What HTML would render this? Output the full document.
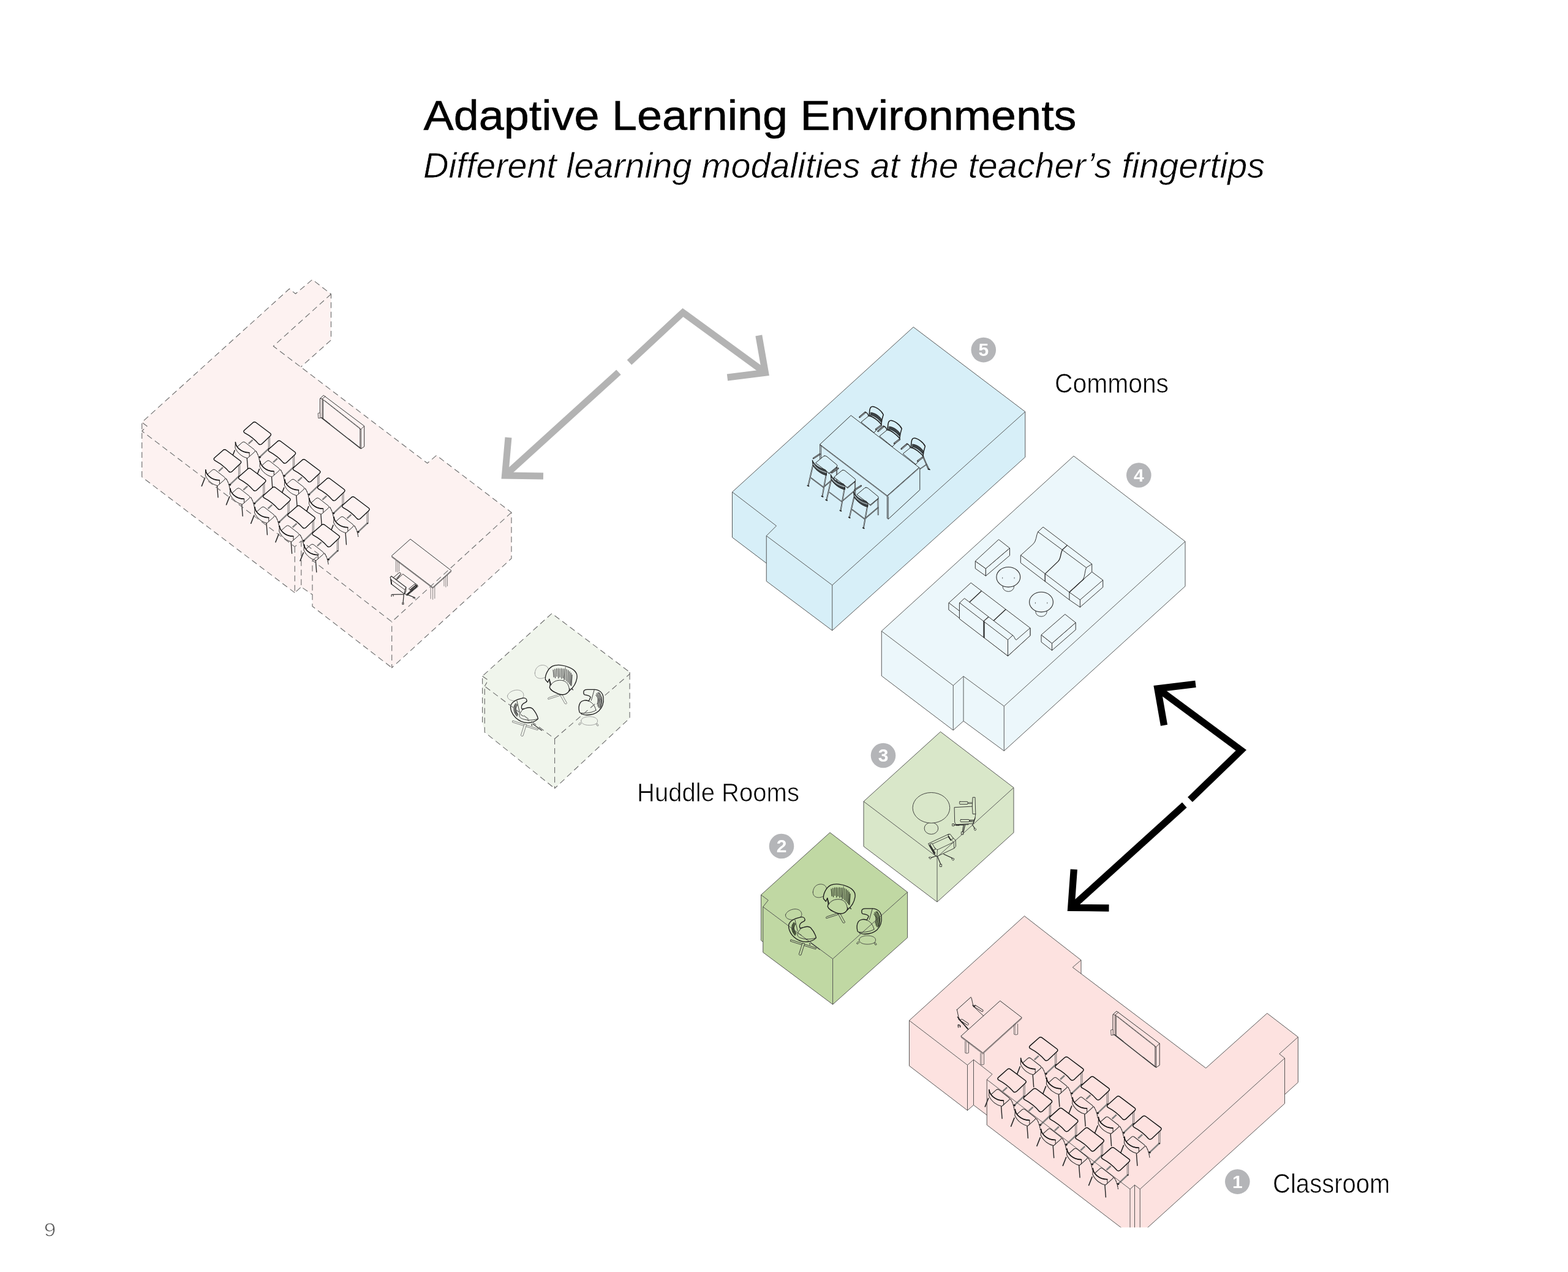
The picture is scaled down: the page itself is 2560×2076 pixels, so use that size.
<!DOCTYPE html>
<html lang="en">
<head>
<meta charset="utf-8">
<title>Adaptive Learning Environments</title>
<style>
html,body{margin:0;padding:0;background:#fff;}
body{width:2560px;height:2076px;overflow:hidden;font-family:"Liberation Sans",sans-serif;}
svg{display:block;font-family:"Liberation Sans",sans-serif;}
</style>
</head>
<body>
<svg xmlns="http://www.w3.org/2000/svg" width="2560" height="2076" viewBox="0 0 2560 2076">
<defs>
<clipPath id="clipc1"><rect x="0" y="0" width="2560" height="2003.3"/></clipPath>
</defs>
<rect width="2560" height="2076" fill="#fff"/>
<rect x="2558" y="2074" width="1" height="1" fill="#fff" style="mix-blend-mode:multiply"/>
<polygon points="231.70,689.20 472.50,471.30 482.50,479.50 510,456.30 540.50,480 540.50,555 491.30,598.80 697.70,756 712.60,743.30 835,836.40 835,911.40 639.70,1089.80 510,989.50 510,970.50 491.80,957.90 481.30,967.40 231.70,778.50" fill="#fdf2f1"/>
<polygon points="787.60,1103.50 901,1001.20 1028.10,1097 1028.10,1172 905.60,1286.70 791.30,1195 787.60,1179" fill="#f0f5ec"/>
<polygon points="1195.50,803 1267.50,858.25 1267.50,932.25 1195.50,877" fill="#d7eff8" />
<polygon points="1251.25,874.50 1358.75,955 1358.75,1029 1251.25,948.50" fill="#d7eff8" />
<polygon points="1358.75,955 1673.75,672 1673.75,746 1358.75,1029" fill="#d7eff8" />
<polygon points="1195.50,803 1491.25,533.75 1673.75,672 1358.75,955 1251.25,874.50 1267.50,858.25" fill="#d7eff8" />
<polygon points="1439.25,1030 1556.25,1118.75 1556.25,1191.75 1439.25,1103" fill="#ecf7fb" />
<polygon points="1556.25,1118.75 1573,1103.75 1573,1176.75 1556.25,1191.75" fill="#ecf7fb" />
<polygon points="1573,1103.75 1639.25,1152.50 1639.25,1225.50 1573,1176.75" fill="#ecf7fb" />
<polygon points="1639.25,1152.50 1935,883.75 1935,956.75 1639.25,1225.50" fill="#ecf7fb" />
<polygon points="1439.25,1030 1753,744.25 1935,883.75 1639.25,1152.50 1573,1103.75 1556.25,1118.75" fill="#ecf7fb" />
<polygon points="1410,1308 1530,1398.75 1530,1472.05 1410,1381.30" fill="#d9e7c9" />
<polygon points="1530,1398.75 1655,1285.50 1655,1358.80 1530,1472.05" fill="#d9e7c9" />
<polygon points="1410,1308 1535.50,1194.25 1655,1285.50 1530,1398.75" fill="#d9e7c9" />
<polygon points="1242.50,1460.50 1254.25,1469.25 1254.25,1543.55 1242.50,1534.80" fill="#c0d8a3" />
<polygon points="1245.75,1480 1359.60,1565 1359.60,1639.30 1245.75,1554.30" fill="#c0d8a3" />
<polygon points="1359.60,1565 1481.60,1456 1481.60,1530.30 1359.60,1639.30" fill="#c0d8a3" />
<polygon points="1242.50,1460.50 1355,1358.75 1481.60,1456 1359.60,1565 1245.75,1480 1254.25,1469.25" fill="#c0d8a3" />
<g clip-path="url(#clipc1)">
<polygon points="1765,1567 1751.25,1578.75 1765,1589.20" fill="#fde2e0" />
<polygon points="2119.25,1692.50 2088.75,1720 2088.75,1794 2119.25,1766.50" fill="#fde2e0" />
<polygon points="2097.50,1727 1861.25,1940.75 1861.25,2014.75 2097.50,1801" fill="#fde2e0" />
<polygon points="1861.25,1940.75 1852.50,1934 1852.50,2008 1861.25,2014.75" fill="#fde2e0" />
<polygon points="1852.50,1934 1845,1940.75 1845,2014.75 1852.50,2008" fill="#fde2e0" />
<polygon points="1589.50,1729.50 1620,1753.25 1620,1827.25 1589.50,1803.50" fill="#fde2e0" />
<polygon points="1579.50,1738.25 1589.50,1729.50 1589.50,1803.50 1579.50,1812.25" fill="#fde2e0" />
<polygon points="1484.50,1665.50 1579.50,1738.25 1579.50,1812.25 1484.50,1739.50" fill="#fde2e0" />
<polygon points="1611.25,1762 1845,1940.75 1845,2014.75 1611.25,1836" fill="#fde2e0" />
<polygon points="1484.50,1665.50 1672.50,1495 1765,1567 1751.25,1578.75 1968.75,1743.25 2068.75,1653.75 2119.25,1692.50 2088.75,1720 2097.50,1727 1861.25,1940.75 1852.50,1934 1845,1940.75 1611.25,1762 1620,1753.25 1589.50,1729.50 1579.50,1738.25" fill="#fde2e0" />
</g>
<defs>
<g id="deskL" fill="none" stroke="#2a2a2a" stroke-width="1.1" stroke-linecap="round" stroke-linejoin="round">
<path d="M8.6,57.8L23.6,43.6" stroke="#808080" stroke-width="2.4" stroke-linecap="butt"/>
<path d="M22.9,25.5V43.4M25,24.5V42.8" stroke="#666" stroke-width="0.9"/>
<circle cx="24" cy="43.8" r="1.2" fill="#333" stroke="none"/>
<path d="M-2.8,29.6L-9.6,35.9" stroke="#808080" stroke-width="2.5" stroke-linecap="butt"/>
<path d="M-20,33.8Q-17.7,31.8 -15.3,33.7L-0.1,45.6Q2.3,47.5 0,49.5L-8.9,57.4Q-11.2,59.4 -13.6,57.5L-28.8,45.6Q-31.2,43.7 -28.9,41.7Z" fill="#fdf2f1" stroke-width="1"/>
<path d="M2.3,47.8C5.5,52 7.5,58 8.6,65.5" stroke-width="1.1" stroke-dasharray="3.2 1.2"/>
<circle cx="8.7" cy="57.9" r="1.6" fill="#222" stroke="none"/>
<path d="M-32.2,46.8L-37.4,59.9" stroke-width="1.6"/>
<path d="M-12.1,59.9L-10.7,78.5" stroke-width="1.4"/>
<path d="M-31,33.7C-30.6,40.5 -22.5,50.3 -8.4,50.5L-8.2,56.6L-11.2,59.4C-18,58.3 -27,52.5 -31.3,43.1Z" fill="#fdf2f1" stroke-width="1"/>
<path d="M-31,33.4C-30.6,40.5 -22.5,50.3 -8.4,50.5" stroke="#141414" stroke-width="1.6"/>
<path d="M-2.6,1.6Q0,-0.6 2.7,1.5L25.6,18.7Q28.3,20.8 25.8,23.1L12.1,36.1Q9.6,38.4 6.9,36.3C0.2,28.5 -6.6,23.2 -16.2,18.1Q-18.9,16 -16.3,13.8Z" fill="#fdf2f1" stroke="#111" stroke-width="1.4"/>
</g>
<g id="deskR" fill="none" stroke="#2a2a2a" stroke-width="1.1" stroke-linecap="round" stroke-linejoin="round">
<path d="M8.6,57.8L23.6,43.6" stroke="#808080" stroke-width="2.4" stroke-linecap="butt"/>
<path d="M22.9,25.5V43.4M25,24.5V42.8" stroke="#666" stroke-width="0.9"/>
<circle cx="24" cy="43.8" r="1.2" fill="#333" stroke="none"/>
<path d="M-2.8,29.6L-9.6,35.9" stroke="#808080" stroke-width="2.5" stroke-linecap="butt"/>
<path d="M-20,33.8Q-17.7,31.8 -15.3,33.7L-0.1,45.6Q2.3,47.5 0,49.5L-8.9,57.4Q-11.2,59.4 -13.6,57.5L-28.8,45.6Q-31.2,43.7 -28.9,41.7Z" fill="#fde2e0" stroke-width="1"/>
<path d="M2.3,47.8C5.5,52 7.5,58 8.6,65.5" stroke-width="1.1" stroke-dasharray="3.2 1.2"/>
<circle cx="8.7" cy="57.9" r="1.6" fill="#222" stroke="none"/>
<path d="M-32.2,46.8L-37.4,59.9" stroke-width="1.6"/>
<path d="M-12.1,59.9L-10.7,78.5" stroke-width="1.4"/>
<path d="M-31,33.7C-30.6,40.5 -22.5,50.3 -8.4,50.5L-8.2,56.6L-11.2,59.4C-18,58.3 -27,52.5 -31.3,43.1Z" fill="#fde2e0" stroke-width="1"/>
<path d="M-31,33.4C-30.6,40.5 -22.5,50.3 -8.4,50.5" stroke="#141414" stroke-width="1.6"/>
<path d="M-2.6,1.6Q0,-0.6 2.7,1.5L25.6,18.7Q28.3,20.8 25.8,23.1L12.1,36.1Q9.6,38.4 6.9,36.3C0.2,28.5 -6.6,23.2 -16.2,18.1Q-18.9,16 -16.3,13.8Z" fill="#fde2e0" stroke="#111" stroke-width="1.4"/>
</g>
</defs>
<path d="M522.8,650.3 L528.2,645.2 L594.7,695.3 L594.7,728.9 L589.4,732.3 L587.8,731.1 L525.3,681.6 L522.8,682 Z" fill="#fdf2f1" stroke="#333" stroke-width="1.0" stroke-linecap="round" stroke-linejoin="round" />
<path d="M519.6,674.4 L522.8,673.7 L522.8,682 L520.2,682.5 Z" fill="#fdf2f1" stroke="#444" stroke-width="0.9" stroke-linecap="round" stroke-linejoin="round" />
<path d="M526,651.2 L588,700 M526,651.2 L526,681.5 M527.6,652.3 L527.6,682.6 M522.8,650.3 L526,651.2 L531.1,647" fill="none" stroke="#333" stroke-width="0.9" stroke-linecap="round" stroke-linejoin="round" />
<path d="M587.8,700 L587.8,730.9 M589.4,700.5 L589.4,732.3 M587.8,700 L589.4,700.5 L594.7,695.3" fill="none" stroke="#333" stroke-width="0.9" stroke-linecap="round" stroke-linejoin="round" />
<path d="M529.8,653.4 L587.8,698.8" fill="none" stroke="#555" stroke-width="0.8" stroke-linecap="round" stroke-linejoin="round" />
<path d="M525.3,682 L588.1,731.4" fill="none" stroke="#3a3a3a" stroke-width="1.7" stroke-linecap="round" stroke-linejoin="round" />
<path d="M539.3,691.8 L569.1,715.2" fill="none" stroke="#fdf2f1" stroke-width="0.8" stroke-linecap="round" stroke-linejoin="round" />
<path d="M1817.3,1655.6 L1823,1650.3 L1893.2,1703.1 L1893.2,1738.5 L1887.5,1742.2 L1885.8,1740.8 L1820,1688.7 L1817.3,1689 Z" fill="#fde2e0" stroke="#333" stroke-width="1.0" stroke-linecap="round" stroke-linejoin="round" />
<path d="M1814,1681 L1817.3,1680.3 L1817.3,1689 L1814.5,1689.6 Z" fill="#fde2e0" stroke="#444" stroke-width="0.9" stroke-linecap="round" stroke-linejoin="round" />
<path d="M1820.6,1656.6 L1886,1708.1 M1820.6,1656.6 L1820.6,1688.5 M1822.3,1657.7 L1822.3,1689.7 M1817.3,1655.6 L1820.6,1656.6 L1826,1652.1" fill="none" stroke="#333" stroke-width="0.9" stroke-linecap="round" stroke-linejoin="round" />
<path d="M1885.8,1708.1 L1885.8,1740.6 M1887.5,1708.6 L1887.5,1742.2 M1885.8,1708.1 L1887.5,1708.6 L1893.2,1703.1" fill="none" stroke="#333" stroke-width="0.9" stroke-linecap="round" stroke-linejoin="round" />
<path d="M1824.7,1658.9 L1885.8,1706.7" fill="none" stroke="#555" stroke-width="0.8" stroke-linecap="round" stroke-linejoin="round" />
<path d="M1820,1689 L1886.2,1741.2" fill="none" stroke="#3a3a3a" stroke-width="1.7" stroke-linecap="round" stroke-linejoin="round" />
<path d="M1834.7,1699.4 L1866.1,1724.1" fill="none" stroke="#fde2e0" stroke-width="0.8" stroke-linecap="round" stroke-linejoin="round" />
<use href="#deskL" x="415.4" y="688.3"/>
<use href="#deskL" x="455.6" y="718.8"/>
<use href="#deskL" x="366.7" y="733.3"/>
<use href="#deskL" x="495.9" y="749.3"/>
<use href="#deskL" x="406.9" y="763.8"/>
<use href="#deskL" x="536" y="779.8"/>
<use href="#deskL" x="447.1" y="794.3"/>
<use href="#deskL" x="576.2" y="810.3"/>
<use href="#deskL" x="487.3" y="824.8"/>
<use href="#deskL" x="527.5" y="855.3"/>
<path d="M646.4,915.5 L646.4,933.1 M649,916.1 L649,933.9 M651.6,917.8 L651.6,932.5" fill="none" stroke="#666" stroke-width="0.8" stroke-linecap="round" stroke-linejoin="round" />
<path d="M725,942 L725,956.4 M727.9,940.9 L727.9,958.1 M730.5,939.1 L730.5,956.4" fill="none" stroke="#666" stroke-width="0.8" stroke-linecap="round" stroke-linejoin="round" />
<path d="M703.2,958.7 L703.2,977.1 M706.6,959.3 L706.6,978.3 M709.8,957.6 L709.8,976.6" fill="none" stroke="#666" stroke-width="0.8" stroke-linecap="round" stroke-linejoin="round" />
<path d="M670.3,880.1 L736.9,931.3 L706.6,958.7 L639.5,907.7 Z" fill="#fdf2f1" stroke="#333" stroke-width="1" stroke-linecap="round" stroke-linejoin="round" />
<path d="M639.5,909.2 L706.6,960.1 L736.9,932.8" fill="none" stroke="#555" stroke-width="0.9" stroke-linecap="round" stroke-linejoin="round" />
<path d="M659.3,969.8 L639.9,970.4 M659.3,969.8 L658.1,983.5 M665.3,970.6 L677.4,975.4" fill="none" stroke="#333" stroke-width="1.3" stroke-linecap="round" stroke-linejoin="round" />
<path d="M639.1,970.6 L639.1,973.4 M641.9,971 L642.3,973 M656.9,983.5 L656.9,986.3 L658.9,986.3 L658.9,983.5 M677,975.4 L677.4,977.4 M674.6,975.4 L675,976.6" fill="none" stroke="#333" stroke-width="1.1" stroke-linecap="round" stroke-linejoin="round" />
<path d="M658.1,937.1 L681.5,954.8 L682.3,957.3 L664.9,971.8 L662.5,970.6 L647.6,946.8 Z" fill="#fdf2f1" stroke="#2a2a2a" stroke-width="1" stroke-linecap="round" stroke-linejoin="round" />
<path d="M681.5,954.8 L664.5,969.4 L662.5,970.6 M664.5,969.4 L664.9,971.8" fill="none" stroke="#2a2a2a" stroke-width="0.9" stroke-linecap="round" stroke-linejoin="round" />
<path d="M667.7,960.9 L677,953.2 L679,954.4 L669.8,962.5 Z" fill="#fdf2f1" stroke="#2a2a2a" stroke-width="1" stroke-linecap="round" stroke-linejoin="round" />
<path d="M669.8,962.9 L679,955 L680.6,956.9 L665.3,969.8" fill="none" stroke="#222" stroke-width="1.6" stroke-linecap="round" stroke-linejoin="round" />
<path d="M642.3,942.7 L651.6,934.7 Q654,934.1 654.6,936.5 L647.6,946 Z" fill="#fdf2f1" stroke="#2a2a2a" stroke-width="1" stroke-linecap="round" stroke-linejoin="round" />
<path d="M646.8,944.4 L654,937.1" fill="none" stroke="#2a2a2a" stroke-width="0.9" stroke-linecap="round" stroke-linejoin="round" />
<path d="M637.1,942.3 L638.9,940.3 L662.9,958.5 L662.5,965.3 L660.1,969.4 L639.1,953.2 L638.3,946 Z" fill="#fdf2f1" stroke="#2a2a2a" stroke-width="1.1" stroke-linecap="round" stroke-linejoin="round" />
<path d="M638.3,946 L660.9,962.5 L662.9,958.5 M660.9,962.5 L660.1,969.4" fill="none" stroke="#2a2a2a" stroke-width="0.9" stroke-linecap="round" stroke-linejoin="round" />
<path d="M638.3,946 L639.1,953.2" fill="none" stroke="#1a1a1a" stroke-width="1.8" stroke-linecap="round" stroke-linejoin="round" />
<path d="M1564.2,1672.7 Q1567.2,1671.9 1568,1674.9 M1564.2,1673.4 L1564.6,1676.8 M1567.2,1674.2 L1567.6,1676.4" fill="none" stroke="#222" stroke-width="1.2" stroke-linecap="round" stroke-linejoin="round" />
<path d="M1562.4,1647.9 L1585.2,1627.4 C1587.4,1630 1586.7,1637.5 1590.4,1643.5 L1606.9,1659.2 L1582.2,1680.9 L1566.1,1662.9 C1564.2,1658.4 1563.9,1653.9 1562.4,1647.9 Z" fill="#fde2e0" stroke="#2a2a2a" stroke-width="1" stroke-linecap="round" stroke-linejoin="round" />
<path d="M1592.1,1642.2 L1603.5,1649.4" fill="none" stroke="#2a2a2a" stroke-width="4.0" stroke-linecap="round" stroke-linejoin="round" />
<path d="M1592.1,1642.2 L1603.5,1649.4" fill="none" stroke="#fde2e0" stroke-width="2.3" stroke-linecap="round" stroke-linejoin="round" />
<path d="M1588.2,1640.5 L1590.4,1643.5 M1588.9,1642 L1591.9,1642" fill="none" stroke="#222" stroke-width="1.4" stroke-linecap="round" stroke-linejoin="round" />
<path d="M1563.5,1659.9 L1580,1679.4 M1565,1662.9 L1578.5,1677.2" fill="none" stroke="#222" stroke-width="1.5" stroke-linecap="round" stroke-linejoin="round" />
<path d="M1570.1,1665 L1579.8,1671.5" fill="none" stroke="#2a2a2a" stroke-width="4.0" stroke-linecap="round" stroke-linejoin="round" />
<path d="M1570.1,1665 L1579.8,1671.5" fill="none" stroke="#fde2e0" stroke-width="2.3" stroke-linecap="round" stroke-linejoin="round" />
<path d="M1575.8,1699.6 L1575.8,1718.3 Q1578.6,1720.2 1581.5,1718.3 L1581.5,1699.6" fill="#fde2e0" stroke="#555" stroke-width="0.9" stroke-linecap="round" stroke-linejoin="round" />
<path d="M1577.9,1699.6 L1577.9,1718.9" fill="none" stroke="#777" stroke-width="0.7" stroke-linecap="round" stroke-linejoin="round" />
<path d="M1600.9,1719.1 L1600.9,1737.1 Q1603.7,1738.9 1606.5,1737.1 L1606.5,1719.1" fill="#fde2e0" stroke="#555" stroke-width="0.9" stroke-linecap="round" stroke-linejoin="round" />
<path d="M1603,1719.1 L1603,1737.7" fill="none" stroke="#777" stroke-width="0.7" stroke-linecap="round" stroke-linejoin="round" />
<path d="M1655.6,1671.2 L1655.6,1688 Q1658.6,1689.9 1661.6,1688 L1661.6,1671.2" fill="#fde2e0" stroke="#555" stroke-width="0.9" stroke-linecap="round" stroke-linejoin="round" />
<path d="M1657.7,1671.2 L1657.7,1688.6" fill="none" stroke="#777" stroke-width="0.7" stroke-linecap="round" stroke-linejoin="round" />
<path d="M1633.1,1633.7 L1668.3,1660.7 L1604.7,1718.3 L1569.1,1691.4 Z" fill="#fde2e0" stroke="#333" stroke-width="1" stroke-linecap="round" stroke-linejoin="round" />
<path d="M1569.1,1693 L1604.7,1720 L1668.3,1662.3" fill="none" stroke="#555" stroke-width="0.9" stroke-linecap="round" stroke-linejoin="round" />
<use href="#deskR" transform="translate(1698.8,1692.3) scale(1.04)"/>
<use href="#deskR" transform="translate(1741,1724.4) scale(1.04)"/>
<use href="#deskR" transform="translate(1647.2,1743.8) scale(1.04)"/>
<use href="#deskR" transform="translate(1783.3,1756.5) scale(1.04)"/>
<use href="#deskR" transform="translate(1689.5,1775.9) scale(1.04)"/>
<use href="#deskR" transform="translate(1825.7,1788.6) scale(1.04)"/>
<use href="#deskR" transform="translate(1731.8,1808) scale(1.04)"/>
<use href="#deskR" transform="translate(1868,1820.7) scale(1.04)"/>
<use href="#deskR" transform="translate(1774.2,1840.1) scale(1.04)"/>
<use href="#deskR" transform="translate(1816.5,1872.2) scale(1.04)"/>
<path d="M873.3,1098.5 C873.8,1089.7 879.7,1085.3 886.5,1085.5 C892.4,1086 896.3,1089.7 895.4,1095.6 C894.4,1102.4 890.5,1106.8 883.6,1107.3 C877.2,1107.6 873.1,1104.4 873.3,1098.5 Z" fill="#f0f5ec" stroke="#8f8f8f" stroke-width="0.8" stroke-linecap="round" stroke-linejoin="round" />
<path d="M913,1133 L895.4,1138.7 Q893.6,1140.1 895.1,1141.4 L913.5,1135.5 Z" fill="#f0f5ec" stroke="#777" stroke-width="0.9" stroke-linecap="round" stroke-linejoin="round" />
<path d="M914.5,1134.5 L922.3,1148.5 Q924.5,1149.7 925.7,1147.7 L917.9,1133.8 Z" fill="#f0f5ec" stroke="#777" stroke-width="0.9" stroke-linecap="round" stroke-linejoin="round" />
<path d="M890.5,1109.3 C889.5,1102.4 894.4,1091.2 902.2,1087.2 C909.1,1084.1 921.3,1085.3 930.1,1089.7 C938.5,1093.6 943.4,1098.5 941.9,1106.8 C940.7,1114.2 936,1122 930.1,1126.9 L928.7,1128.4 C923.8,1135.2 917.9,1134.7 911.5,1132.3 C904.2,1129.4 898.8,1126.9 897.3,1122 L898.3,1117.1 L896.8,1108.3 L894.4,1113.7 Z" fill="#f0f5ec" stroke="#1c1c1c" stroke-width="1.3" stroke-linecap="round" stroke-linejoin="round" />
<path d="M898.8,1119.1 C902.2,1112.2 909.1,1109.8 916.4,1110.3 C923.8,1111 928.7,1116.6 929.2,1124" fill="none" stroke="#2a2a2a" stroke-width="0.9" stroke-linecap="round" stroke-linejoin="round" />
<path d="M896.8,1108.3 L899.3,1117.1 M933.6,1124 L935.5,1125.9 M930.1,1124 L928.7,1128.4" fill="none" stroke="#1c1c1c" stroke-width="1.3" stroke-linecap="round" stroke-linejoin="round" />
<path d="M923.3,1088.2 L920.3,1110.3" fill="none" stroke="#444" stroke-width="0.7" stroke-linecap="round" stroke-linejoin="round" />
<path d="M903.2,1093.4 L904.2,1104.9 M905.9,1092.1 L906.6,1106.3 M908.6,1091.4 L909.1,1103.9 M911.3,1091.2 L911.8,1106.8 M914,1091.4 L914.2,1104.9 M916.7,1091.2 L916.9,1107.3 M919.4,1091.7 L919.4,1106.3 M922.1,1091.9 L922.3,1109.3 M925,1092.6 L925,1111.2 M927.7,1094.1 L927.4,1113.7 M930.1,1096.1 L929.6,1116.1 M932.3,1098.5 L931.4,1118.1 M934,1101.4 L932.8,1119.1" fill="none" stroke="#4a4a4a" stroke-width="1.25" stroke-linecap="round" stroke-linejoin="round" />
<path d="M828.5,1135.7 C829.5,1130.6 836.8,1126.4 844,1126.1 C851.3,1126.1 855.4,1130.6 854.9,1135.7 C853.9,1140.9 847.1,1144 839.9,1143.8 C832.6,1143.5 828,1140.4 828.5,1135.7 Z" fill="#f0f5ec" stroke="#8f8f8f" stroke-width="0.8" stroke-linecap="round" stroke-linejoin="round" />
<path d="M837.3,1176.2 L878.8,1189.7 L877.7,1191.7 L836.8,1178.8 Z" fill="#f0f5ec" stroke="#777" stroke-width="0.9" stroke-linecap="round" stroke-linejoin="round" />
<path d="M856,1181.9 L850.3,1200 Q851.3,1202.6 853.9,1201.1 L859.6,1182.9 Z" fill="#f0f5ec" stroke="#777" stroke-width="0.9" stroke-linecap="round" stroke-linejoin="round" />
<path d="M867.9,1181.9 L868.4,1184.5 M870,1181.4 L884.5,1192.2" fill="none" stroke="#333" stroke-width="1.2" stroke-linecap="round" stroke-linejoin="round" />
<path d="M860.1,1143 C859.6,1139.4 856,1138.3 851.3,1139.9 C844,1141.4 836.8,1145.1 834.2,1150.3 C832.1,1156.5 835.7,1165.8 842,1171.5 C848.2,1177.2 856.5,1180.3 864.2,1179.5 C870,1179 875.1,1176.7 878.5,1173.1 C877.2,1167.4 873.1,1160.6 869.4,1156.5 C866.8,1154.4 861.7,1154.4 856.5,1156.5 L852.3,1157.5 C850.8,1154.4 851.3,1150.8 854.4,1148.2 C858.5,1146.1 860.6,1145.6 860.1,1143 Z" fill="#f0f5ec" stroke="#1c1c1c" stroke-width="1.3" stroke-linecap="round" stroke-linejoin="round" />
<path d="M848.7,1164.8 C850.8,1160.6 853.4,1157.5 856.5,1156.5 M848.7,1164.8 C847.1,1168.4 848.2,1171 851.3,1172.5 C856.5,1175.1 866.8,1176.7 878.2,1173.3 M844,1144 L848.2,1161.7" fill="none" stroke="#2a2a2a" stroke-width="0.9" stroke-linecap="round" stroke-linejoin="round" />
<path d="M850.3,1166.3 L854.4,1168.9 M861.1,1175.1 L863.7,1176.2" fill="none" stroke="#333" stroke-width="1.0" stroke-linecap="round" stroke-linejoin="round" />
<path d="M842,1148.2 C837.3,1154.4 838.3,1161.7 844,1168.9 M843.3,1149 C839.1,1154.9 839.9,1161.1 845.1,1167.6 M844.4,1150.3 C840.9,1155.4 841.4,1160.6 845.8,1165.8 M840.9,1150.3 C837.8,1155.4 838.8,1161.7 842.5,1166.8" fill="none" stroke="#4a4a4a" stroke-width="1.25" stroke-linecap="round" stroke-linejoin="round" />
<path d="M947.1,1179.5 L944.8,1181.5 Q944.5,1183.6 946.6,1183.1 L948.7,1181 ZM973,1181.5 L975.1,1184.7 Q976.7,1185.2 977.2,1183.6 L975.1,1181 Z" fill="#f0f5ec" stroke="#777" stroke-width="0.9" stroke-linecap="round" stroke-linejoin="round" />
<path d="M948.7,1176.4 C948.7,1172.2 954.9,1169.6 962.1,1169.6 C970.4,1169.6 975.6,1172.2 975.6,1176.9 C975.6,1181.5 969.4,1183.6 962.1,1183.6 C954.4,1183.6 948.7,1181 948.7,1176.4 Z" fill="#f0f5ec" stroke="#8f8f8f" stroke-width="0.8" stroke-linecap="round" stroke-linejoin="round" />
<path d="M952.8,1129.7 C952.8,1126.6 954.9,1125.3 959,1125.3 L970.4,1125.3 C978.7,1125.6 983.9,1130.7 985,1138 C986,1146.3 983.4,1154.6 977.7,1160.3 C972.5,1165 965.3,1167 958,1167 C952.8,1167 949.7,1166 946.1,1162.4 C944.5,1156.7 945,1150.4 947.6,1146.3 C950.7,1142.7 957,1142.1 961.1,1144.2 L964.2,1138 C963.2,1135.4 959,1134.4 954.4,1133.8 C953.1,1133.3 952.8,1131.8 952.8,1129.7 Z" fill="#f0f5ec" stroke="#1c1c1c" stroke-width="1.3" stroke-linecap="round" stroke-linejoin="round" />
<path d="M961.1,1144.2 C966.3,1145.8 971.5,1151.5 973,1159.2 M973,1159.2 C968.4,1162.4 959,1164.4 949.7,1163.9 M949.2,1163.4 L949.7,1166 M970.4,1125.3 L965.3,1143.2" fill="none" stroke="#2a2a2a" stroke-width="0.9" stroke-linecap="round" stroke-linejoin="round" />
<path d="M977.7,1130.2 C982.4,1134.9 983.4,1145.3 979.2,1155.6 M975.9,1130.7 C980.5,1135.9 981.3,1145.3 977.4,1154.6 M974.1,1132 C978.5,1137 979.2,1144.2 976.1,1152.5 M973,1134.4 C976.7,1138 977.2,1143.2 975.1,1149.4 M979.8,1133.3 C983.4,1139 983.4,1146.3 980.5,1154.1" fill="none" stroke="#4a4a4a" stroke-width="1.25" stroke-linecap="round" stroke-linejoin="round" />
<path d="M1327.3,1456 C1327.8,1447.2 1333.7,1442.8 1340.5,1443 C1346.4,1443.5 1350.3,1447.2 1349.4,1453.1 C1348.4,1459.9 1344.5,1464.3 1337.6,1464.8 C1331.2,1465.1 1327.1,1461.9 1327.3,1456 Z" fill="#c0d8a3" stroke="#333" stroke-width="0.8" stroke-linecap="round" stroke-linejoin="round" />
<path d="M1367,1490.5 L1349.4,1496.2 Q1347.6,1497.6 1349.1,1498.9 L1367.5,1493 Z" fill="#c0d8a3" stroke="#333" stroke-width="0.9" stroke-linecap="round" stroke-linejoin="round" />
<path d="M1368.5,1492 L1376.3,1506 Q1378.5,1507.2 1379.7,1505.2 L1371.9,1491.3 Z" fill="#c0d8a3" stroke="#333" stroke-width="0.9" stroke-linecap="round" stroke-linejoin="round" />
<path d="M1344.5,1466.8 C1343.5,1459.9 1348.4,1448.7 1356.2,1444.7 C1363.1,1441.6 1375.3,1442.8 1384.1,1447.2 C1392.5,1451.1 1397.4,1456 1395.9,1464.3 C1394.7,1471.7 1390,1479.5 1384.1,1484.4 L1382.7,1485.9 C1377.8,1492.7 1371.9,1492.2 1365.5,1489.8 C1358.2,1486.9 1352.8,1484.4 1351.3,1479.5 L1352.3,1474.6 L1350.8,1465.8 L1348.4,1471.2 Z" fill="#c0d8a3" stroke="#1c1c1c" stroke-width="1.3" stroke-linecap="round" stroke-linejoin="round" />
<path d="M1352.8,1476.6 C1356.2,1469.7 1363.1,1467.3 1370.4,1467.8 C1377.8,1468.5 1382.7,1474.1 1383.2,1481.5" fill="none" stroke="#2a2a2a" stroke-width="0.9" stroke-linecap="round" stroke-linejoin="round" />
<path d="M1350.8,1465.8 L1353.3,1474.6 M1387.6,1481.5 L1389.5,1483.4 M1384.1,1481.5 L1382.7,1485.9" fill="none" stroke="#1c1c1c" stroke-width="1.3" stroke-linecap="round" stroke-linejoin="round" />
<path d="M1377.3,1445.7 L1374.3,1467.8" fill="none" stroke="#444" stroke-width="0.7" stroke-linecap="round" stroke-linejoin="round" />
<path d="M1357.2,1450.9 L1358.2,1462.4 M1359.9,1449.6 L1360.6,1463.8 M1362.6,1448.9 L1363.1,1461.4 M1365.3,1448.7 L1365.8,1464.3 M1368,1448.9 L1368.2,1462.4 M1370.7,1448.7 L1370.9,1464.8 M1373.4,1449.2 L1373.4,1463.8 M1376.1,1449.4 L1376.3,1466.8 M1379,1450.1 L1379,1468.7 M1381.7,1451.6 L1381.4,1471.2 M1384.1,1453.6 L1383.6,1473.6 M1386.3,1456 L1385.4,1475.6 M1388,1458.9 L1386.8,1476.6" fill="none" stroke="#2c3524" stroke-width="1.25" stroke-linecap="round" stroke-linejoin="round" />
<path d="M1282.5,1493.2 C1283.5,1488.1 1290.8,1483.9 1298,1483.6 C1305.3,1483.6 1309.4,1488.1 1308.9,1493.2 C1307.9,1498.4 1301.1,1501.5 1293.9,1501.3 C1286.6,1501 1282,1497.9 1282.5,1493.2 Z" fill="#c0d8a3" stroke="#333" stroke-width="0.8" stroke-linecap="round" stroke-linejoin="round" />
<path d="M1291.3,1533.7 L1332.8,1547.2 L1331.7,1549.2 L1290.8,1536.3 Z" fill="#c0d8a3" stroke="#333" stroke-width="0.9" stroke-linecap="round" stroke-linejoin="round" />
<path d="M1310,1539.4 L1304.3,1557.5 Q1305.3,1560.1 1307.9,1558.6 L1313.6,1540.4 Z" fill="#c0d8a3" stroke="#333" stroke-width="0.9" stroke-linecap="round" stroke-linejoin="round" />
<path d="M1321.9,1539.4 L1322.4,1542 M1324,1538.9 L1338.5,1549.7" fill="none" stroke="#333" stroke-width="1.2" stroke-linecap="round" stroke-linejoin="round" />
<path d="M1314.1,1500.5 C1313.6,1496.9 1310,1495.8 1305.3,1497.4 C1298,1498.9 1290.8,1502.6 1288.2,1507.8 C1286.1,1514 1289.7,1523.3 1296,1529 C1302.2,1534.7 1310.5,1537.8 1318.2,1537 C1324,1536.5 1329.1,1534.2 1332.5,1530.6 C1331.2,1524.9 1327.1,1518.1 1323.4,1514 C1320.8,1511.9 1315.7,1511.9 1310.5,1514 L1306.3,1515 C1304.8,1511.9 1305.3,1508.3 1308.4,1505.7 C1312.5,1503.6 1314.6,1503.1 1314.1,1500.5 Z" fill="#c0d8a3" stroke="#1c1c1c" stroke-width="1.3" stroke-linecap="round" stroke-linejoin="round" />
<path d="M1302.7,1522.3 C1304.8,1518.1 1307.4,1515 1310.5,1514 M1302.7,1522.3 C1301.1,1525.9 1302.2,1528.5 1305.3,1530 C1310.5,1532.6 1320.8,1534.2 1332.2,1530.8 M1298,1501.5 L1302.2,1519.2" fill="none" stroke="#2a2a2a" stroke-width="0.9" stroke-linecap="round" stroke-linejoin="round" />
<path d="M1304.3,1523.8 L1308.4,1526.4 M1315.1,1532.6 L1317.7,1533.7" fill="none" stroke="#333" stroke-width="1.0" stroke-linecap="round" stroke-linejoin="round" />
<path d="M1296,1505.7 C1291.3,1511.9 1292.3,1519.2 1298,1526.4 M1297.3,1506.5 C1293.1,1512.4 1293.9,1518.6 1299.1,1525.1 M1298.4,1507.8 C1294.9,1512.9 1295.4,1518.1 1299.8,1523.3 M1294.9,1507.8 C1291.8,1512.9 1292.8,1519.2 1296.5,1524.3" fill="none" stroke="#2c3524" stroke-width="1.25" stroke-linecap="round" stroke-linejoin="round" />
<path d="M1401.1,1537 L1398.8,1539 Q1398.5,1541.1 1400.6,1540.6 L1402.7,1538.5 ZM1427,1539 L1429.1,1542.2 Q1430.7,1542.7 1431.2,1541.1 L1429.1,1538.5 Z" fill="#c0d8a3" stroke="#333" stroke-width="0.9" stroke-linecap="round" stroke-linejoin="round" />
<path d="M1402.7,1533.9 C1402.7,1529.7 1408.9,1527.1 1416.1,1527.1 C1424.4,1527.1 1429.6,1529.7 1429.6,1534.4 C1429.6,1539 1423.4,1541.1 1416.1,1541.1 C1408.4,1541.1 1402.7,1538.5 1402.7,1533.9 Z" fill="#c0d8a3" stroke="#333" stroke-width="0.8" stroke-linecap="round" stroke-linejoin="round" />
<path d="M1406.8,1487.2 C1406.8,1484.1 1408.9,1482.8 1413,1482.8 L1424.4,1482.8 C1432.7,1483.1 1437.9,1488.2 1439,1495.5 C1440,1503.8 1437.4,1512.1 1431.7,1517.8 C1426.5,1522.5 1419.3,1524.5 1412,1524.5 C1406.8,1524.5 1403.7,1523.5 1400.1,1519.9 C1398.5,1514.2 1399,1507.9 1401.6,1503.8 C1404.7,1500.2 1411,1499.6 1415.1,1501.7 L1418.2,1495.5 C1417.2,1492.9 1413,1491.9 1408.4,1491.3 C1407.1,1490.8 1406.8,1489.3 1406.8,1487.2 Z" fill="#c0d8a3" stroke="#1c1c1c" stroke-width="1.3" stroke-linecap="round" stroke-linejoin="round" />
<path d="M1415.1,1501.7 C1420.3,1503.3 1425.5,1509 1427,1516.7 M1427,1516.7 C1422.4,1519.9 1413,1521.9 1403.7,1521.4 M1403.2,1520.9 L1403.7,1523.5 M1424.4,1482.8 L1419.3,1500.7" fill="none" stroke="#2a2a2a" stroke-width="0.9" stroke-linecap="round" stroke-linejoin="round" />
<path d="M1431.7,1487.7 C1436.4,1492.4 1437.4,1502.8 1433.2,1513.1 M1429.9,1488.2 C1434.5,1493.4 1435.3,1502.8 1431.4,1512.1 M1428.1,1489.5 C1432.5,1494.5 1433.2,1501.7 1430.1,1510 M1427,1491.9 C1430.7,1495.5 1431.2,1500.7 1429.1,1506.9 M1433.8,1490.8 C1437.4,1496.5 1437.4,1503.8 1434.5,1511.6" fill="none" stroke="#2c3524" stroke-width="1.25" stroke-linecap="round" stroke-linejoin="round" />
<ellipse cx="1520.4" cy="1351.9" rx="11.3" ry="9.6" fill="#d9e7c9" stroke="#333" stroke-width="0.9"/>
<ellipse cx="1520.4" cy="1318.4" rx="30.3" ry="24.9" fill="#d9e7c9" stroke="#333" stroke-width="0.9"/>
<path d="M1573.3,1346.4 L1571,1359.7 M1575.6,1346.4 L1572.5,1359.7 M1587.3,1345.7 L1592,1352.7 M1581.1,1345.7 L1557.8,1346.4" fill="none" stroke="#222" stroke-width="1.1" stroke-linecap="round" stroke-linejoin="round" />
<path d="M1569.4,1358.1 L1569.4,1362 L1572.9,1362 L1572.9,1358.1 ZM1590.4,1351.9 Q1592.8,1351.1 1593.9,1353.4 Q1593.5,1355.4 1591.6,1355.4 Q1590,1354.2 1590.4,1351.9 ZM1554.7,1344.9 L1554.7,1348 L1557.8,1348 L1557.8,1344.9 Z" fill="#d9e7c9" stroke="#333" stroke-width="0.9" stroke-linecap="round" stroke-linejoin="round" />
<path d="M1558.5,1317.7 L1587.3,1316.1 L1588.1,1301.3 L1592,1301.3 L1592.8,1328.5 L1592,1334.8 L1588.9,1344.1 L1560.9,1345.7 L1558.9,1342.5 Z" fill="#d9e7c9" stroke="#2a2a2a" stroke-width="0.9" stroke-linecap="round" stroke-linejoin="round" />
<path d="M1587.3,1316.1 L1588.1,1328.5 L1592.8,1328.5 M1560.9,1345.7 L1560.9,1347.2 L1566.3,1347.2 L1567.1,1345.7" fill="none" stroke="#2a2a2a" stroke-width="0.9" stroke-linecap="round" stroke-linejoin="round" />
<path d="M1567.1,1308.3 L1579.5,1308.3 Q1581.1,1310.7 1579.5,1312.6 L1567.1,1312.6 Q1565.5,1310.7 1567.1,1308.3 Z" fill="#d9e7c9" stroke="#2a2a2a" stroke-width="0.9" stroke-linecap="round" stroke-linejoin="round" />
<path d="M1580.3,1309.9 L1587.3,1309.9 M1580.3,1311.4 L1587.3,1311.4" fill="none" stroke="#333" stroke-width="0.8" stroke-linecap="round" stroke-linejoin="round" />
<path d="M1568.6,1337.5 L1581.9,1337.5 Q1583.8,1339.4 1581.9,1341.4 L1568.6,1341.4 Q1566.7,1339.4 1568.6,1337.5 Z" fill="#d9e7c9" stroke="#2a2a2a" stroke-width="0.9" stroke-linecap="round" stroke-linejoin="round" />
<path d="M1582.6,1338.7 L1590.4,1338.7 M1582.6,1340.6 L1588.9,1341 M1588.9,1344.1 L1592,1334.8" fill="none" stroke="#222" stroke-width="1.2" stroke-linecap="round" stroke-linejoin="round" />
<path d="M1529,1397 L1518.9,1400.1 M1530.5,1397.8 L1536,1411 M1540.7,1393.9 L1557,1401.6" fill="none" stroke="#222" stroke-width="1.1" stroke-linecap="round" stroke-linejoin="round" />
<path d="M1516.9,1399.3 Q1518.9,1397.8 1520.4,1399.3 Q1520.8,1401.6 1518.9,1402 Q1516.9,1401.6 1516.9,1399.3 ZM1534.4,1411 L1534.4,1414.5 L1537.5,1414.5 L1537.5,1411 ZM1553.9,1400.9 Q1556.2,1400.1 1557.8,1401.6 Q1557.8,1404 1555.8,1404.4 Q1553.9,1403.2 1553.9,1400.9 Z" fill="#d9e7c9" stroke="#333" stroke-width="0.9" stroke-linecap="round" stroke-linejoin="round" />
<path d="M1515.8,1376.8 L1549.2,1361.2 L1560.1,1371.3 L1560.5,1381.4 L1557.8,1384.5 L1529.8,1397.8 L1525.1,1393.9 Z" fill="#d9e7c9" stroke="#2a2a2a" stroke-width="0.9" stroke-linecap="round" stroke-linejoin="round" />
<path d="M1520.4,1378.3 L1547.7,1365.9 L1557,1374.4 L1530.5,1386.9 Z" fill="none" stroke="#2a2a2a" stroke-width="0.8" stroke-linecap="round" stroke-linejoin="round" />
<path d="M1530.5,1386.9 L1529.8,1397.8 M1557,1374.4 L1557.8,1384.5" fill="none" stroke="#2a2a2a" stroke-width="0.8" stroke-linecap="round" stroke-linejoin="round" />
<path d="M1547.7,1362.8 L1552.3,1370.5 L1556.6,1368.6 L1551.5,1361.6 Z" fill="#d9e7c9" stroke="#2a2a2a" stroke-width="0.9" stroke-linecap="round" stroke-linejoin="round" />
<path d="M1548.4,1365.1 L1552.3,1371.3" fill="none" stroke="#222" stroke-width="1.6" stroke-linecap="round" stroke-linejoin="round" />
<path d="M1518.1,1378.3 L1523.5,1387.6 L1527.4,1386.1 L1522,1376.8 Z" fill="#d9e7c9" stroke="#2a2a2a" stroke-width="0.9" stroke-linecap="round" stroke-linejoin="round" />
<path d="M1517.3,1379.9 L1525.9,1393.9 M1518.9,1379.5 L1526.7,1392.3" fill="none" stroke="#222" stroke-width="1.3" stroke-linecap="round" stroke-linejoin="round" />
<path d="M1406.2,688.7 L1418.2,679 C1425,679.7 1433.9,686.5 1439.2,692.4 L1427.2,705.9 Z" fill="#d7eff8" stroke="#2a2a2a" stroke-width="1" stroke-linecap="round" stroke-linejoin="round" />
<path d="M1403.6,680.8 L1412.6,673" fill="none" stroke="#3a3a3a" stroke-width="2.8" stroke-linecap="round" stroke-linejoin="round" />
<path d="M1404.4,680.5 L1412.1,673.7" fill="none" stroke="#c9d6db" stroke-width="0.9" stroke-linecap="round" stroke-linejoin="round" />
<path d="M1412.6,672.6 Q1416.7,673.7 1417.8,678.6" fill="none" stroke="#2a2a2a" stroke-width="1.3" stroke-linecap="round" stroke-linejoin="round" />
<path d="M1430.2,700.7 L1438.8,694.3" fill="none" stroke="#3a3a3a" stroke-width="2.8" stroke-linecap="round" stroke-linejoin="round" />
<path d="M1430.9,700.1 L1438.3,694.7" fill="none" stroke="#c9d6db" stroke-width="0.9" stroke-linecap="round" stroke-linejoin="round" />
<path d="M1419,678.2 L1419.9,669.2 Q1420.8,663.2 1425,663.4 C1430.2,664 1439.2,670 1442.2,676.7 L1439.9,685 L1438.8,692.4 C1433.9,686.5 1425,679.7 1419,678.2 Z" fill="#d7eff8" stroke="#1c1c1c" stroke-width="1.5" stroke-linecap="round" stroke-linejoin="round" />
<path d="M1421.6,673.3 C1427.9,673.7 1435.4,678.2 1439.2,684.2 L1438.1,688.7 C1433.9,683.5 1427.2,678.2 1421.2,677.5 Z" fill="#3c4346" stroke="#1c1c1c" stroke-width="0.8" stroke-linecap="round" stroke-linejoin="round" />
<path d="M1436.2,711.6 L1448.2,701.9 C1455,702.6 1463.9,709.4 1469.2,715.3 L1457.2,728.8 Z" fill="#d7eff8" stroke="#2a2a2a" stroke-width="1" stroke-linecap="round" stroke-linejoin="round" />
<path d="M1433.6,703.7 L1442.6,695.9" fill="none" stroke="#3a3a3a" stroke-width="2.8" stroke-linecap="round" stroke-linejoin="round" />
<path d="M1434.4,703.4 L1442.1,696.6" fill="none" stroke="#c9d6db" stroke-width="0.9" stroke-linecap="round" stroke-linejoin="round" />
<path d="M1442.6,695.5 Q1446.7,696.6 1447.8,701.5" fill="none" stroke="#2a2a2a" stroke-width="1.3" stroke-linecap="round" stroke-linejoin="round" />
<path d="M1460.2,723.6 L1468.8,717.2" fill="none" stroke="#3a3a3a" stroke-width="2.8" stroke-linecap="round" stroke-linejoin="round" />
<path d="M1460.9,723 L1468.3,717.6" fill="none" stroke="#c9d6db" stroke-width="0.9" stroke-linecap="round" stroke-linejoin="round" />
<path d="M1449,701.1 L1449.9,692.1 Q1450.8,686.1 1455,686.3 C1460.2,686.9 1469.2,692.9 1472.2,699.6 L1469.9,707.9 L1468.8,715.3 C1463.9,709.4 1455,702.6 1449,701.1 Z" fill="#d7eff8" stroke="#1c1c1c" stroke-width="1.5" stroke-linecap="round" stroke-linejoin="round" />
<path d="M1451.6,696.2 C1457.9,696.6 1465.4,701.1 1469.2,707.1 L1468.1,711.6 C1463.9,706.4 1457.2,701.1 1451.2,700.4 Z" fill="#3c4346" stroke="#1c1c1c" stroke-width="0.8" stroke-linecap="round" stroke-linejoin="round" />
<path d="M1507,744.1 L1515.6,765.9" fill="none" stroke="#2e2e2e" stroke-width="1.8" stroke-linecap="round"/><path d="M1507,744.1 L1515.6,765.9" fill="none" stroke="#b9c6cb" stroke-width="0.72" stroke-linecap="round"/>
<path d="M1474.4,740.4 L1486.4,730.7 C1493.2,731.4 1502.1,738.2 1507.4,744.1 L1495.4,757.6 Z" fill="#d7eff8" stroke="#2a2a2a" stroke-width="1" stroke-linecap="round" stroke-linejoin="round" />
<path d="M1471.8,732.5 L1480.8,724.7" fill="none" stroke="#3a3a3a" stroke-width="2.8" stroke-linecap="round" stroke-linejoin="round" />
<path d="M1472.6,732.2 L1480.3,725.4" fill="none" stroke="#c9d6db" stroke-width="0.9" stroke-linecap="round" stroke-linejoin="round" />
<path d="M1480.8,724.3 Q1484.9,725.4 1486,730.3" fill="none" stroke="#2a2a2a" stroke-width="1.3" stroke-linecap="round" stroke-linejoin="round" />
<path d="M1498.4,752.4 L1507,746" fill="none" stroke="#3a3a3a" stroke-width="2.8" stroke-linecap="round" stroke-linejoin="round" />
<path d="M1499.1,751.8 L1506.5,746.4" fill="none" stroke="#c9d6db" stroke-width="0.9" stroke-linecap="round" stroke-linejoin="round" />
<path d="M1487.2,729.9 L1488.1,720.9 Q1489,714.9 1493.2,715.1 C1498.4,715.7 1507.4,721.7 1510.4,728.4 L1508.1,736.7 L1507,744.1 C1502.1,738.2 1493.2,731.4 1487.2,729.9 Z" fill="#d7eff8" stroke="#1c1c1c" stroke-width="1.5" stroke-linecap="round" stroke-linejoin="round" />
<path d="M1489.8,725 C1496.1,725.4 1503.6,729.9 1507.4,735.9 L1506.3,740.4 C1502.1,735.2 1495.4,729.9 1489.4,729.2 Z" fill="#3c4346" stroke="#1c1c1c" stroke-width="0.8" stroke-linecap="round" stroke-linejoin="round" />
<path d="M1507.3,746.6 L1516.9,766" fill="none" stroke="#2e2e2e" stroke-width="1.8" stroke-linecap="round"/><path d="M1507.3,746.6 L1516.9,766" fill="none" stroke="#b9c6cb" stroke-width="0.72" stroke-linecap="round"/>
<path d="M1502.4,765.2 L1512.9,757.9" fill="none" stroke="#2e2e2e" stroke-width="1.6" stroke-linecap="round"/><path d="M1502.4,765.2 L1512.9,757.9" fill="none" stroke="#b9c6cb" stroke-width="0.64" stroke-linecap="round"/>
<path d="M1516.1,765.6 L1518.1,766.4" fill="none" stroke="#222" stroke-width="1.6" stroke-linecap="round" stroke-linejoin="round" />
<polygon points="1338.6,725.3 1340.6,726.8 1340.6,760 1338.6,758.5" fill="#d7eff8" stroke="#333" stroke-width="0.9"/>
<polygon points="1448.5,809 1500.5,763 1501.8,764 1501.8,799.5 1450.3,847.2 1448.5,846" fill="#d7eff8" stroke="#333" stroke-width="1" stroke-linejoin="round"/>
<path d="M1450.4,810.3V847" stroke="#333" stroke-width="0.9" fill="none"/>
<polygon points="1389.3,678 1500.5,763 1448.5,809 1338.6,725.3" fill="#d7eff8" stroke="#333" stroke-width="1" stroke-linejoin="round"/>
<path d="M1338.6,726.6L1448.5,810.4L1500.5,764.5" stroke="#555" stroke-width="0.8" fill="none"/>
<path d="M1327,760.1 L1319.5,793" fill="none" stroke="#2e2e2e" stroke-width="2.0" stroke-linecap="round"/><path d="M1327,760.1 L1319.5,793" fill="none" stroke="#b9c6cb" stroke-width="0.80" stroke-linecap="round"/>
<path d="M1366.1,761.9 L1366.4,788.4" fill="none" stroke="#2e2e2e" stroke-width="2.0" stroke-linecap="round"/><path d="M1366.1,761.9 L1366.4,788.4" fill="none" stroke="#b9c6cb" stroke-width="0.80" stroke-linecap="round"/>
<path d="M1324.4,780.3 L1344.3,795.3 M1344.3,795.3 L1366.1,776.8" fill="none" stroke="#2e2e2e" stroke-width="1.8" stroke-linecap="round"/><path d="M1324.4,780.3 L1344.3,795.3 M1344.3,795.3 L1366.1,776.8" fill="none" stroke="#b9c6cb" stroke-width="0.72" stroke-linecap="round"/>
<path d="M1349.4,771.1 L1342.5,810.3" fill="none" stroke="#2e2e2e" stroke-width="2.0" stroke-linecap="round"/><path d="M1349.4,771.1 L1342.5,810.3" fill="none" stroke="#b9c6cb" stroke-width="0.80" stroke-linecap="round"/>
<path d="M1318.3,792.4 L1320.6,793.5 M1341.4,809.7 L1343.7,810.8" fill="none" stroke="#222" stroke-width="1.6" stroke-linecap="round" stroke-linejoin="round" />
<path d="M1328.1,748 L1338.5,741.1" fill="none" stroke="#3a3a3a" stroke-width="2.6" stroke-linecap="round" stroke-linejoin="round" />
<path d="M1328.7,747.6 L1337.9,741.4" fill="none" stroke="#aab5b9" stroke-width="0.9" stroke-linecap="round" stroke-linejoin="round" />
<path d="M1346,744 Q1347.7,743.4 1350,745.2 L1366.1,758.4 Q1367.9,760.1 1366.1,761.9 L1353.5,772.2 L1331.6,755.5 L1344.3,744.9 Q1345.1,744.1 1346,744 Z" fill="#d7eff8" stroke="#2a2a2a" stroke-width="1" stroke-linecap="round" stroke-linejoin="round" />
<path d="M1366.7,762.4 L1354.1,773.4 L1352.3,771.9" fill="none" stroke="#2a2a2a" stroke-width="1.0" stroke-linecap="round" stroke-linejoin="round" />
<path d="M1326.4,751.2 C1329.3,758.4 1337.9,764.2 1347.1,766.5 Q1349.4,767.6 1349.4,771.1 L1349.4,775.7 C1342,774.5 1331.6,767.6 1327.3,759.6 Z" fill="#3c4346" stroke="#1c1c1c" stroke-width="1.0" stroke-linecap="round" stroke-linejoin="round" />
<path d="M1327.8,757.3 C1331.6,763 1339.6,768.8 1348.9,771.1" fill="none" stroke="#c9d6db" stroke-width="1.1" stroke-linecap="round" stroke-linejoin="round" />
<path d="M1356.9,783.4 L1349.4,816.3" fill="none" stroke="#2e2e2e" stroke-width="2.0" stroke-linecap="round"/><path d="M1356.9,783.4 L1349.4,816.3" fill="none" stroke="#b9c6cb" stroke-width="0.80" stroke-linecap="round"/>
<path d="M1396,785.2 L1396.3,811.7" fill="none" stroke="#2e2e2e" stroke-width="2.0" stroke-linecap="round"/><path d="M1396,785.2 L1396.3,811.7" fill="none" stroke="#b9c6cb" stroke-width="0.80" stroke-linecap="round"/>
<path d="M1354.3,803.6 L1374.2,818.6 M1374.2,818.6 L1396,800.1" fill="none" stroke="#2e2e2e" stroke-width="1.8" stroke-linecap="round"/><path d="M1354.3,803.6 L1374.2,818.6 M1374.2,818.6 L1396,800.1" fill="none" stroke="#b9c6cb" stroke-width="0.72" stroke-linecap="round"/>
<path d="M1379.3,794.4 L1372.4,833.6" fill="none" stroke="#2e2e2e" stroke-width="2.0" stroke-linecap="round"/><path d="M1379.3,794.4 L1372.4,833.6" fill="none" stroke="#b9c6cb" stroke-width="0.80" stroke-linecap="round"/>
<path d="M1348.2,815.7 L1350.5,816.8 M1371.3,833 L1373.6,834.1" fill="none" stroke="#222" stroke-width="1.6" stroke-linecap="round" stroke-linejoin="round" />
<path d="M1358,771.3 L1368.4,764.4" fill="none" stroke="#3a3a3a" stroke-width="2.6" stroke-linecap="round" stroke-linejoin="round" />
<path d="M1358.6,770.9 L1367.8,764.7" fill="none" stroke="#aab5b9" stroke-width="0.9" stroke-linecap="round" stroke-linejoin="round" />
<path d="M1375.9,767.3 Q1377.6,766.7 1379.9,768.5 L1396,781.7 Q1397.8,783.4 1396,785.2 L1383.4,795.5 L1361.5,778.8 L1374.2,768.2 Q1375,767.4 1375.9,767.3 Z" fill="#d7eff8" stroke="#2a2a2a" stroke-width="1" stroke-linecap="round" stroke-linejoin="round" />
<path d="M1396.6,785.7 L1384,796.7 L1382.2,795.2" fill="none" stroke="#2a2a2a" stroke-width="1.0" stroke-linecap="round" stroke-linejoin="round" />
<path d="M1356.3,774.5 C1359.2,781.7 1367.8,787.5 1377,789.8 Q1379.3,790.9 1379.3,794.4 L1379.3,799 C1371.9,797.8 1361.5,790.9 1357.2,782.9 Z" fill="#3c4346" stroke="#1c1c1c" stroke-width="1.0" stroke-linecap="round" stroke-linejoin="round" />
<path d="M1357.7,780.6 C1361.5,786.3 1369.5,792.1 1378.8,794.4" fill="none" stroke="#c9d6db" stroke-width="1.1" stroke-linecap="round" stroke-linejoin="round" />
<path d="M1394.3,811.8 L1386.8,844.7" fill="none" stroke="#2e2e2e" stroke-width="2.0" stroke-linecap="round"/><path d="M1394.3,811.8 L1386.8,844.7" fill="none" stroke="#b9c6cb" stroke-width="0.80" stroke-linecap="round"/>
<path d="M1433.4,813.6 L1433.7,840.1" fill="none" stroke="#2e2e2e" stroke-width="2.0" stroke-linecap="round"/><path d="M1433.4,813.6 L1433.7,840.1" fill="none" stroke="#b9c6cb" stroke-width="0.80" stroke-linecap="round"/>
<path d="M1391.7,832 L1411.6,847 M1411.6,847 L1433.4,828.5" fill="none" stroke="#2e2e2e" stroke-width="1.8" stroke-linecap="round"/><path d="M1391.7,832 L1411.6,847 M1411.6,847 L1433.4,828.5" fill="none" stroke="#b9c6cb" stroke-width="0.72" stroke-linecap="round"/>
<path d="M1416.7,822.8 L1409.8,862" fill="none" stroke="#2e2e2e" stroke-width="2.0" stroke-linecap="round"/><path d="M1416.7,822.8 L1409.8,862" fill="none" stroke="#b9c6cb" stroke-width="0.80" stroke-linecap="round"/>
<path d="M1385.6,844.1 L1387.9,845.2 M1408.7,861.4 L1411,862.5" fill="none" stroke="#222" stroke-width="1.6" stroke-linecap="round" stroke-linejoin="round" />
<path d="M1395.4,799.7 L1405.8,792.8" fill="none" stroke="#3a3a3a" stroke-width="2.6" stroke-linecap="round" stroke-linejoin="round" />
<path d="M1396,799.3 L1405.2,793.1" fill="none" stroke="#aab5b9" stroke-width="0.9" stroke-linecap="round" stroke-linejoin="round" />
<path d="M1413.3,795.7 Q1415,795.1 1417.3,796.9 L1433.4,810.1 Q1435.2,811.8 1433.4,813.6 L1420.8,823.9 L1398.9,807.2 L1411.6,796.6 Q1412.4,795.8 1413.3,795.7 Z" fill="#d7eff8" stroke="#2a2a2a" stroke-width="1" stroke-linecap="round" stroke-linejoin="round" />
<path d="M1434,814.1 L1421.4,825.1 L1419.6,823.6" fill="none" stroke="#2a2a2a" stroke-width="1.0" stroke-linecap="round" stroke-linejoin="round" />
<path d="M1393.7,802.9 C1396.6,810.1 1405.2,815.9 1414.4,818.2 Q1416.7,819.3 1416.7,822.8 L1416.7,827.4 C1409.3,826.2 1398.9,819.3 1394.6,811.3 Z" fill="#3c4346" stroke="#1c1c1c" stroke-width="1.0" stroke-linecap="round" stroke-linejoin="round" />
<path d="M1395.1,809 C1398.9,814.7 1406.9,820.5 1416.2,822.8" fill="none" stroke="#c9d6db" stroke-width="1.1" stroke-linecap="round" stroke-linejoin="round" />
<polygon points="1592.3,915.8 1609.4,928 1609.4,940 1592.3,927.8" fill="#ecf7fb" stroke="#333" stroke-width="1" stroke-linejoin="round"/>
<polygon points="1609.4,928 1648.5,894.6 1648.5,906.6 1609.4,940" fill="#ecf7fb" stroke="#333" stroke-width="1" stroke-linejoin="round"/>
<polygon points="1630.5,880.5 1648.5,894.6 1609.4,928 1592.3,915.8" fill="#ecf7fb" stroke="#333" stroke-width="1" stroke-linejoin="round"/>
<ellipse cx="1646.3" cy="957.4" rx="9.2" ry="8" fill="#ecf7fb" stroke="#333" stroke-width="0.9"/>
<ellipse cx="1646.3" cy="941.8" rx="19.4" ry="16.3" fill="#ecf7fb" stroke="#2a2a2a" stroke-width="1.1"/>
<path d="M1636.7,942.1v2.4M1656.1,942.1v2.4" stroke="#444" stroke-width="0.8" fill="none"/>
<path d="M1745.9,966.6 L1768.9,945.4 L1782.7,933.4 L1800.7,946.8 L1800.7,958.3 L1763.4,991 L1745.9,979 Z" fill="#ecf7fb" stroke="#333" stroke-width="1" stroke-linecap="round" stroke-linejoin="round" />
<path d="M1745.9,966.6 L1763.4,979 L1800.7,946.8 M1763.4,979 L1763.4,991" fill="none" stroke="#333" stroke-width="1" stroke-linecap="round" stroke-linejoin="round" />
<path d="M1666.6,906.2 L1686.9,887.8 Q1690.1,885 1691.5,878.6 Q1692.9,871.2 1694.7,868 L1703,860.1 L1782.7,920.5 L1782.7,933.4 L1768.9,945.4 L1745.9,966.6 L1745.9,979 L1666.6,918.7 Z" fill="#ecf7fb" stroke="#333" stroke-width="1" stroke-linecap="round" stroke-linejoin="round" />
<path d="M1694.7,868 L1773.5,926.5 L1782.7,920.5 M1666.6,906.2 L1745.9,966.6" fill="none" stroke="#333" stroke-width="1" stroke-linecap="round" stroke-linejoin="round" />
<path d="M1773.5,926.5 Q1772.1,929.3 1771.2,935.7 Q1770.3,942.2 1768.4,945.4" fill="none" stroke="#333" stroke-width="1" stroke-linecap="round" stroke-linejoin="round" />
<path d="M1706.2,936.6 L1706.2,948.8 M1706.2,936.6 L1727.4,916.4 Q1730.2,913.6 1731.6,907.1 Q1732.5,901.6 1734.3,897.5 L1742.2,890.1" fill="none" stroke="#222" stroke-width="1.3" stroke-linecap="round" stroke-linejoin="round" />
<path d="M1745.9,966.6 L1768.9,945.4" fill="none" stroke="#222" stroke-width="1.3" stroke-linecap="round" stroke-linejoin="round" />
<path d="M1549.2,983.9 L1585.2,951.2 L1681.9,1024.9 L1681.9,1037.4 L1645.5,1070.6 L1549.2,995.4 Z" fill="#ecf7fb" stroke="#333" stroke-width="1" stroke-linecap="round" stroke-linejoin="round" />
<path d="M1549.2,983.9 L1566.7,997.3" fill="none" stroke="#333" stroke-width="1" stroke-linecap="round" stroke-linejoin="round" />
<path d="M1582.9,982.7 L1602.2,964.8 M1622.5,1012.7 L1641.8,994.8" fill="none" stroke="#222" stroke-width="1.3" stroke-linecap="round" stroke-linejoin="round" />
<path d="M1566.7,983.9 L1574.6,976.5 L1653.4,1036.9 Q1655.2,1037.8 1656.3,1040.6 Q1657.5,1044.3 1659.4,1044.3 L1681.9,1024.9 L1681.9,1037.4 L1645.5,1070.6 L1566.7,1010.2 Z" fill="#ecf7fb" stroke="#333" stroke-width="1" stroke-linecap="round" stroke-linejoin="round" />
<path d="M1566.7,983.9 L1645.5,1044.3 L1653.4,1036.9 M1645.5,1044.3 L1645.5,1070.6" fill="none" stroke="#333" stroke-width="1" stroke-linecap="round" stroke-linejoin="round" />
<path d="M1605.9,1013.9 L1605.9,1040.1 M1607.1,1014.8 L1607.1,1041.1 M1605.9,1013.9 L1613.7,1007" fill="none" stroke="#222" stroke-width="1.1" stroke-linecap="round" stroke-linejoin="round" />
<ellipse cx="1700" cy="998.2" rx="9.2" ry="8" fill="#ecf7fb" stroke="#333" stroke-width="0.9"/>
<ellipse cx="1700" cy="982.6" rx="19.4" ry="16.3" fill="#ecf7fb" stroke="#2a2a2a" stroke-width="1.1"/>
<path d="M1690.4,982.9v2.4M1709.8,982.9v2.4" stroke="#444" stroke-width="0.8" fill="none"/>
<polygon points="1700,1036.2 1717.5,1050 1717.5,1061.5 1700,1047.8" fill="#ecf7fb" stroke="#333" stroke-width="1" stroke-linejoin="round"/>
<polygon points="1717.5,1050 1756.2,1016.2 1756.2,1027.8 1717.5,1061.5" fill="#ecf7fb" stroke="#333" stroke-width="1" stroke-linejoin="round"/>
<polygon points="1738.8,1002.5 1756.2,1016.2 1717.5,1050 1700,1036.2" fill="#ecf7fb" stroke="#333" stroke-width="1" stroke-linejoin="round"/>
<polyline points="231.70,778.50 231.70,689.20 472.50,471.30 482.50,479.50 510,456.30 540.50,480 540.50,555 491.30,598.80" fill="none" stroke="#6e6e6e" stroke-width="1.15" stroke-linejoin="round" stroke-dasharray="9.6 6"/>
<polyline points="540.50,480 446.30,565 697.70,756 712.60,743.30 835,836.40 835,911.40 639.70,1089.80 639.70,1014.80" fill="none" stroke="#6e6e6e" stroke-width="1.15" stroke-linejoin="round" stroke-dasharray="9.6 6"/>
<polyline points="835,836.40 639.70,1014.80 510,914.50 510,989.50 639.70,1089.80" fill="none" stroke="#6e6e6e" stroke-width="1.15" stroke-linejoin="round" stroke-dasharray="9.6 6"/>
<polyline points="510,914.50 521.60,905.50 491.80,882.90 481.30,892.40 231.70,703.50 240,695.50 231.70,689.20" fill="none" stroke="#6e6e6e" stroke-width="1.15" stroke-linejoin="round" stroke-dasharray="9.6 6"/>
<polyline points="491.80,882.90 491.80,957.90 510,970.50" fill="none" stroke="#6e6e6e" stroke-width="1.15" stroke-linejoin="round" stroke-dasharray="9.6 6"/>
<polyline points="481.30,892.40 481.30,967.40 491.80,957.90" fill="none" stroke="#6e6e6e" stroke-width="1.15" stroke-linejoin="round" stroke-dasharray="9.6 6"/>
<polyline points="481.30,967.40 231.70,778.50" fill="none" stroke="#6e6e6e" stroke-width="1.15" stroke-linejoin="round" stroke-dasharray="9.6 6"/>
<polyline points="787.60,1179 787.60,1103.50 901,1001.20 1028.10,1097 1028.10,1172 905.60,1286.70 905.60,1205.70" fill="none" stroke="#6e6e6e" stroke-width="1.15" stroke-linejoin="round" stroke-dasharray="9.6 6"/>
<polyline points="1028.10,1097 1028.10,1100 905.60,1205.70 791.30,1120 791.30,1195 905.60,1286.70" fill="none" stroke="#6e6e6e" stroke-width="1.15" stroke-linejoin="round" stroke-dasharray="9.6 6"/>
<polyline points="787.60,1103.50 797,1110 791.30,1120" fill="none" stroke="#6e6e6e" stroke-width="1.15" stroke-linejoin="round" stroke-dasharray="9.6 6"/>
<polyline points="1195.50,803 1491.25,533.75 1673.75,672 1358.75,955 1251.25,874.50 1267.50,858.25 1195.50,803" fill="none" stroke="#454545" stroke-width="0.9" stroke-linejoin="round" />
<polyline points="1195.50,803 1195.50,877 1251.25,919.20" fill="none" stroke="#454545" stroke-width="0.9" stroke-linejoin="round" />
<polyline points="1251.25,874.50 1251.25,948.50 1358.75,1029 1673.75,746 1673.75,672" fill="none" stroke="#454545" stroke-width="0.9" stroke-linejoin="round" />
<polyline points="1358.75,955 1358.75,1029" fill="none" stroke="#454545" stroke-width="0.9" stroke-linejoin="round" />
<polyline points="1439.25,1030 1753,744.25 1935,883.75 1639.25,1152.50 1573,1103.75 1556.25,1118.75 1439.25,1030" fill="none" stroke="#454545" stroke-width="0.9" stroke-linejoin="round" />
<polyline points="1439.25,1030 1439.25,1103 1556.25,1191.75 1573,1176.75 1639.25,1225.50 1935,956.75 1935,883.75" fill="none" stroke="#454545" stroke-width="0.9" stroke-linejoin="round" />
<polyline points="1556.25,1118.75 1556.25,1191.75" fill="none" stroke="#454545" stroke-width="0.9" stroke-linejoin="round" />
<polyline points="1573,1103.75 1573,1176.75" fill="none" stroke="#454545" stroke-width="0.9" stroke-linejoin="round" />
<polyline points="1639.25,1152.50 1639.25,1225.50" fill="none" stroke="#454545" stroke-width="0.9" stroke-linejoin="round" />
<polyline points="1410,1308 1535.50,1194.25 1655,1285.50 1530,1398.75 1410,1308" fill="none" stroke="#454545" stroke-width="0.9" stroke-linejoin="round" />
<polyline points="1410,1308 1410,1381.30 1530,1472.05 1655,1358.80 1655,1285.50" fill="none" stroke="#454545" stroke-width="0.9" stroke-linejoin="round" />
<polyline points="1530,1398.75 1530,1472.05" fill="none" stroke="#454545" stroke-width="0.9" stroke-linejoin="round" />
<polyline points="1242.50,1460.50 1355,1358.75 1481.60,1456 1359.60,1565 1245.75,1480 1254.25,1469.25 1242.50,1460.50" fill="none" stroke="#454545" stroke-width="0.9" stroke-linejoin="round" />
<polyline points="1242.50,1460.50 1242.50,1534.80 1245.75,1537.30" fill="none" stroke="#454545" stroke-width="0.9" stroke-linejoin="round" />
<polyline points="1245.75,1480 1245.75,1554.30 1359.60,1639.30 1481.60,1530.30 1481.60,1456" fill="none" stroke="#454545" stroke-width="0.9" stroke-linejoin="round" />
<polyline points="1359.60,1565 1359.60,1639.30" fill="none" stroke="#454545" stroke-width="0.9" stroke-linejoin="round" />
<polyline points="1484.50,1665.50 1672.50,1495 1765,1567 1751.25,1578.75 1968.75,1743.25 2068.75,1653.75 2119.25,1692.50 2088.75,1720 2097.50,1727 1861.25,1940.75 1852.50,1934 1845,1940.75 1611.25,1762 1620,1753.25 1589.50,1729.50 1579.50,1738.25 1484.50,1665.50" fill="none" stroke="#454545" stroke-width="0.9" stroke-linejoin="round" />
<polyline points="1765,1567 1765,1589.20" fill="none" stroke="#454545" stroke-width="0.9" stroke-linejoin="round" />
<polyline points="2119.25,1692.50 2119.25,1766.50 2097.50,1786.25" fill="none" stroke="#454545" stroke-width="0.9" stroke-linejoin="round" />
<polyline points="2097.50,1727 2097.50,1801 1861.25,2014.75" fill="none" stroke="#454545" stroke-width="0.9" stroke-linejoin="round" clip-path="url(#clipc1)"/>
<polyline points="1861.25,1940.75 1861.25,2014.75" fill="none" stroke="#454545" stroke-width="0.9" stroke-linejoin="round" clip-path="url(#clipc1)"/>
<polyline points="1852.50,1934 1852.50,2008" fill="none" stroke="#454545" stroke-width="0.9" stroke-linejoin="round" clip-path="url(#clipc1)"/>
<polyline points="1845,1940.75 1845,2014.75" fill="none" stroke="#454545" stroke-width="0.9" stroke-linejoin="round" clip-path="url(#clipc1)"/>
<polyline points="1611.25,1762 1611.25,1836 1845,2014.75" fill="none" stroke="#454545" stroke-width="0.9" stroke-linejoin="round" clip-path="url(#clipc1)"/>
<polyline points="1589.50,1729.50 1589.50,1803.50 1611.25,1819.96" fill="none" stroke="#454545" stroke-width="0.9" stroke-linejoin="round" />
<polyline points="1484.50,1665.50 1484.50,1739.50 1579.50,1812.25 1589.50,1803.50" fill="none" stroke="#454545" stroke-width="0.9" stroke-linejoin="round" />
<polyline points="1579.50,1738.25 1579.50,1812.25" fill="none" stroke="#454545" stroke-width="0.9" stroke-linejoin="round" />
<g fill="none" stroke="#b3b3b3" stroke-width="11" stroke-linejoin="miter" stroke-miterlimit="10">
<polyline points="830,714 824.5,776 887,777"/>
<polyline points="824.5,776 1010,607.5"/>
<polyline points="1027.5,591.5 1115,510 1249.5,608.3"/>
<polyline points="1238.8,547.5 1249.5,608.3 1187.5,616"/>
</g>
<g fill="none" stroke="#000" stroke-width="11.3" stroke-linejoin="miter" stroke-miterlimit="10">
<polyline points="1952,1116.3 1890,1123.8 1900.5,1183.8"/>
<polyline points="1890,1123.8 2026.3,1224.5 1943,1305"/>
<polyline points="1933.8,1313.8 1748.8,1481.3"/>
<polyline points="1753.3,1418.8 1748.8,1481.3 1810.5,1482"/>
</g>
<circle cx="1605.8" cy="571.1" r="20.3" fill="#b4b5b8"/>
<text x="1605.8" y="581.1" text-anchor="middle" font-size="30" font-weight="bold" fill="#fff">5</text>
<circle cx="1859.3" cy="775.5" r="20.3" fill="#b4b5b8"/>
<text x="1859.3" y="785.5" text-anchor="middle" font-size="30" font-weight="bold" fill="#fff">4</text>
<circle cx="1442" cy="1233" r="20.3" fill="#b4b5b8"/>
<text x="1442" y="1243" text-anchor="middle" font-size="30" font-weight="bold" fill="#fff">3</text>
<circle cx="1276" cy="1381" r="20.3" fill="#b4b5b8"/>
<text x="1276" y="1391" text-anchor="middle" font-size="30" font-weight="bold" fill="#fff">2</text>
<circle cx="2020.3" cy="1928.6" r="20.3" fill="#b4b5b8"/>
<text x="2020.3" y="1938.6" text-anchor="middle" font-size="30" font-weight="bold" fill="#fff">1</text>
<text x="691.5" y="212.3" font-size="68" textLength="1066" lengthAdjust="spacingAndGlyphs" stroke="#000" stroke-width="0.6">Adaptive Learning Environments</text>
<text x="691" y="290" font-size="56.5" textLength="1374" lengthAdjust="spacingAndGlyphs" font-style="italic" stroke="#fff" stroke-width="0.7">Different learning modalities at the teacher’s fingertips</text>
<text x="1722" y="640.6" font-size="43.5" textLength="186" lengthAdjust="spacingAndGlyphs" stroke="#fff" stroke-width="0.7">Commons</text>
<text x="1040" y="1308.2" font-size="42.5" textLength="265" lengthAdjust="spacingAndGlyphs" stroke="#fff" stroke-width="0.7">Huddle Rooms</text>
<text x="2078" y="1947.2" font-size="43.5" textLength="191.5" lengthAdjust="spacingAndGlyphs" stroke="#fff" stroke-width="0.7">Classroom</text>
<text x="71.8" y="2018.2" font-size="31.5" textLength="19.5" lengthAdjust="spacingAndGlyphs" fill="#555" stroke="#fff" stroke-width="0.8">9</text>
</svg>
</body>
</html>
